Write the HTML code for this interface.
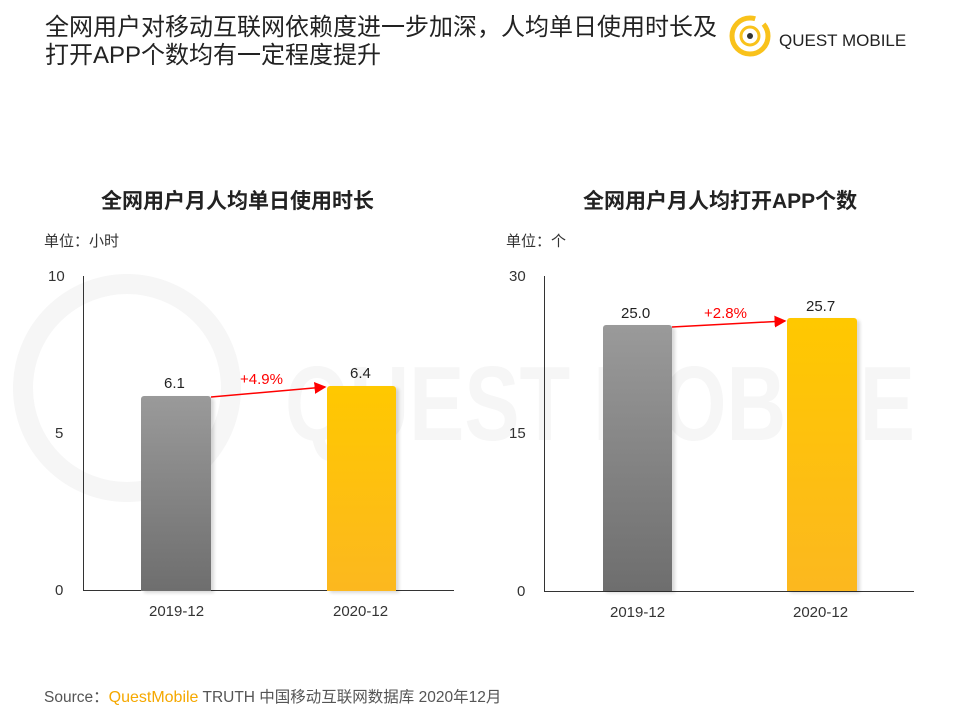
<!DOCTYPE html>
<html><head><meta charset="utf-8"><style>
body{margin:0;width:960px;height:720px;background:#fff;position:relative;overflow:hidden;font-family:"Liberation Sans","Noto Sans CJK SC",sans-serif;}
.a{position:absolute;white-space:nowrap;}
.t{font-size:24px;color:#222;line-height:28px;}
.ct{font-size:21px;color:#222;font-weight:bold;}
.u{font-size:15px;color:#333;}
.tk{font-size:15px;color:#333;}
.v{font-size:15px;color:#222;}
.p{font-size:15px;color:#f00;}
.g{background:linear-gradient(#9a9a9a,#6e6e6e);border-radius:3px 3px 0 0;box-shadow:3px 2px 3px rgba(0,0,0,.15);}
.y{background:linear-gradient(#ffc800,#fcb81f);border-radius:3px 3px 0 0;box-shadow:3px 2px 3px rgba(0,0,0,.15);}
</style></head><body>
<svg class="a" style="left:0;top:0" width="960" height="720">
<text x="285" y="440" font-family="Liberation Sans" font-weight="bold" font-size="106" fill="#f6f6f6" textLength="630" lengthAdjust="spacingAndGlyphs">QUEST MOBILE</text>
<circle cx="127" cy="388" r="104" fill="none" stroke="#f6f6f6" stroke-width="20"/>
</svg>
<div class="a t" style="left:45px;top:14px;">全网用户对移动互联网依赖度进一步加深，人均单日使用时长及<br>打开APP个数均有一定程度提升</div>
<svg class="a" style="left:728px;top:14px" width="50" height="46"><circle cx="22" cy="22" r="18" fill="none" stroke="#f9c21b" stroke-width="5" stroke-dasharray="90 10"/><circle cx="22" cy="22" r="9" fill="none" stroke="#f9c21b" stroke-width="3"/><circle cx="22" cy="22" r="3" fill="#333"/></svg>
<div class="a" style="left:779px;top:31px;font-size:17px;color:#222;">QUEST MOBILE</div>

<div class="a ct" style="left:101px;top:185px;">全网用户月人均单日使用时长</div>
<div class="a u" style="left:44px;top:230px;">单位：小时</div>
<div class="a ct" style="left:583px;top:185px;">全网用户月人均打开APP个数</div>
<div class="a u" style="left:506px;top:230px;">单位：个</div>

<div class="a" style="left:83px;top:276px;width:1px;height:315px;background:#333"></div>
<div class="a" style="left:83px;top:590px;width:371px;height:1px;background:#333"></div>
<div class="a tk" style="left:48px;top:268px;">10</div>
<div class="a tk" style="left:55px;top:425px;">5</div>
<div class="a tk" style="left:55px;top:582px;">0</div>
<div class="a g" style="left:141px;top:396px;width:70px;height:195px;"></div>
<div class="a y" style="left:327px;top:386px;width:69px;height:205px;"></div>
<div class="a v" style="left:164px;top:375px;">6.1</div>
<div class="a v" style="left:350px;top:365px;">6.4</div>
<div class="a p" style="left:240px;top:371px;">+4.9%</div>
<div class="a tk" style="left:149px;top:603px;">2019-12</div>
<div class="a tk" style="left:333px;top:603px;">2020-12</div>

<div class="a" style="left:544px;top:276px;width:1px;height:316px;background:#333"></div>
<div class="a" style="left:544px;top:591px;width:370px;height:1px;background:#333"></div>
<div class="a tk" style="left:509px;top:268px;">30</div>
<div class="a tk" style="left:509px;top:425px;">15</div>
<div class="a tk" style="left:517px;top:583px;">0</div>
<div class="a g" style="left:603px;top:325px;width:69px;height:266px;"></div>
<div class="a y" style="left:787px;top:318px;width:70px;height:273px;"></div>
<div class="a v" style="left:621px;top:305px;">25.0</div>
<div class="a v" style="left:806px;top:298px;">25.7</div>
<div class="a p" style="left:704px;top:305px;">+2.8%</div>
<div class="a tk" style="left:610px;top:604px;">2019-12</div>
<div class="a tk" style="left:793px;top:604px;">2020-12</div>

<svg class="a" style="left:0;top:0" width="960" height="720">
<defs><marker id="m" markerWidth="8" markerHeight="8" refX="7" refY="4" orient="auto"><path d="M0,0 L8,4 L0,8z" fill="#f00"/></marker></defs>
<line x1="211" y1="397" x2="325" y2="387" stroke="#f00" stroke-width="1.5" marker-end="url(#m)"/>
<line x1="672" y1="327" x2="785" y2="321" stroke="#f00" stroke-width="1.5" marker-end="url(#m)"/>
</svg>

<div class="a" style="left:44px;top:685px;font-size:15.5px;color:#555;">Source：<span style="color:#f5a800;font-size:16px;">QuestMobile</span> TRUTH 中国移动互联网数据库 2020年12月</div>
</body></html>
